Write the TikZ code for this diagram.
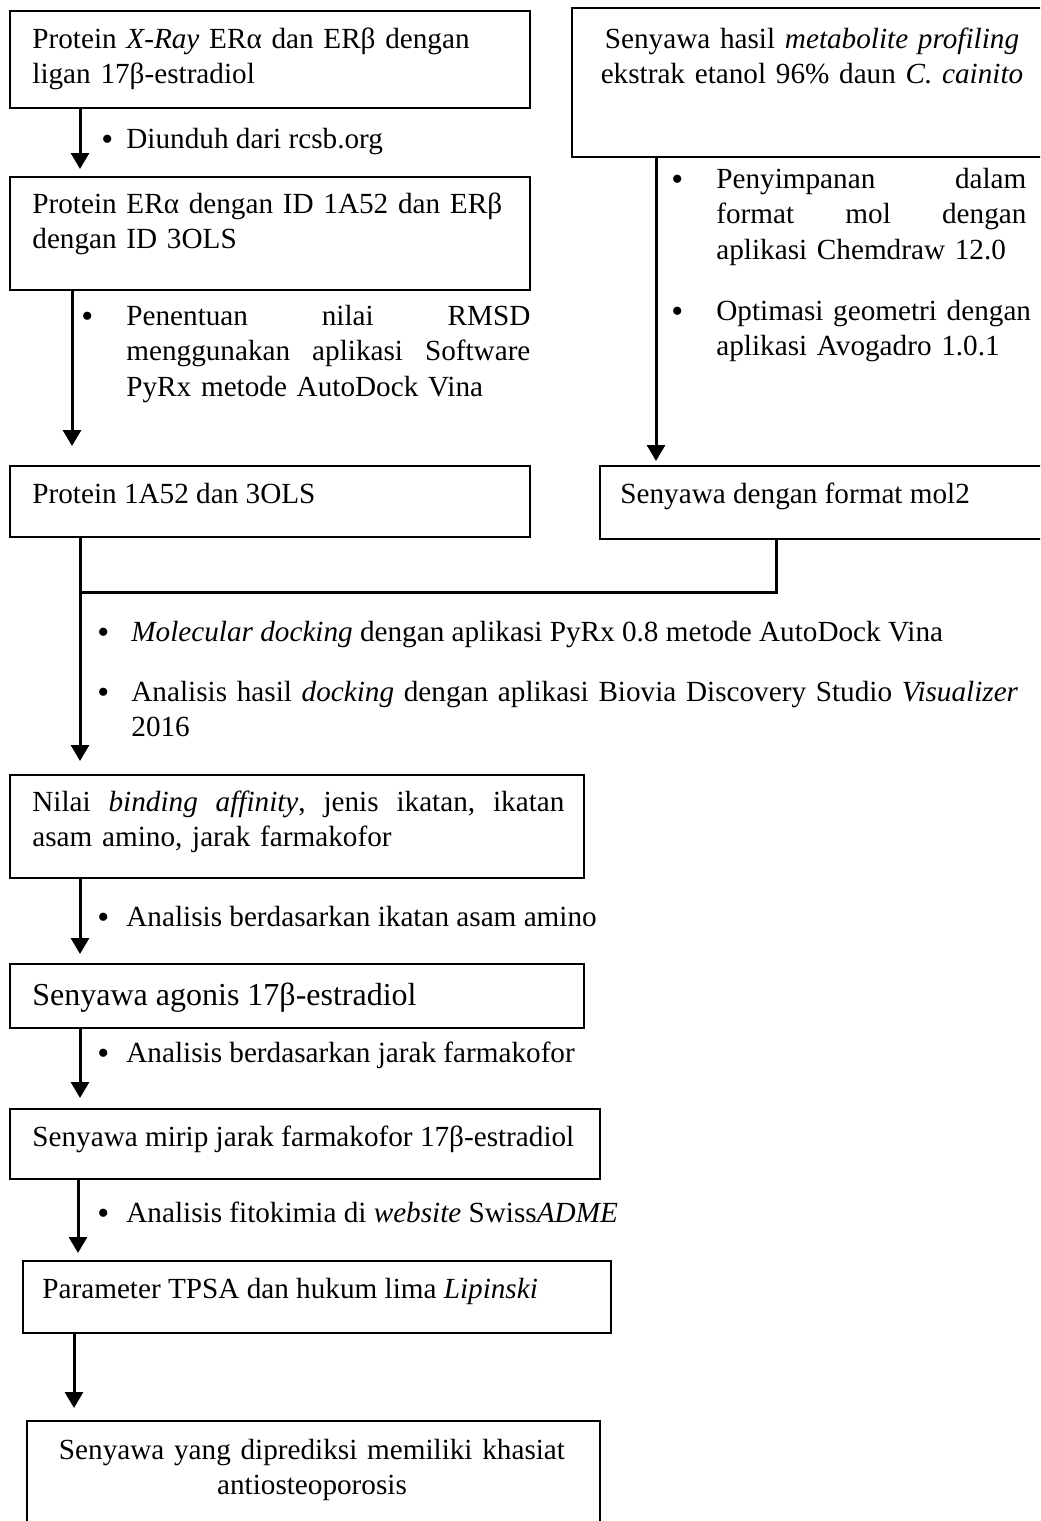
\documentclass[tikz,border=0pt]{standalone}
\usepackage{fontspec}
\setmainfont{Liberation Serif}
\usetikzlibrary{fit, arrows.meta, positioning}
\tikzstyle{frame} = [draw=black, line width=1pt, inner sep=0]
\tikzstyle{txt} = [inner sep=0, anchor=base west, align=left, font=\fontsize{14.6}{17.9}\selectfont]
\tikzstyle{mid} = [inner sep=0, anchor=base, align=center, font=\fontsize{14.6}{17.9}\selectfont]
\tikzstyle{dot} = [inner sep=0, anchor=base west, yshift=-1.2pt, font=\fontsize{17}{18}\selectfont]
\tikzstyle{flow} = [line width=1.5pt, -{Triangle[width=9pt,length=8pt]}]
\tikzstyle{link} = [line width=1.5pt]

\begin{document}
\begin{tikzpicture}[x=0.5pt, y=-0.5pt]
				\useasboundingbox (0, 0) rectangle (1040, 1521);
				\clip (0, 0) rectangle (1040, 1521);

				% left column, proteins
				\node (Xray) [frame, fit={(10, 11) (530, 108)}] {};
				\node (XrayText) [txt, text width=250pt] at (32, 48) {Protein \textit{X-Ray} ERα dan ERβ dengan\\ ligan 17β-estradiol};

				\node (Crystal) [frame, fit={(10, 177) (530, 290)}] {};
				\node (CrystalText) [txt, text width=250pt] at (32, 213) {Protein ERα dengan ID 1A52 dan ERβ\\ dengan ID 3OLS};

				\node (Protein) [frame, fit={(10, 466) (530, 537)}] {};
				\node (ProteinText) [txt] at (32, 503) {Protein 1A52 dan 3OLS};

				\coordinate (ColA) at (80, 0);
				\coordinate (ColB) at (72, 0);
				\draw [flow, shorten >=3.5pt] (Xray.south -| ColA) -- (Crystal.north -| ColA);
				\node (DownloadDot) [dot] at (101, 148) {•};
				\node (Download) [txt] at (126, 148) {Diunduh dari rcsb.org};

				\draw [flow, shorten >=9.5pt] (Crystal.south -| ColB) -- (Protein.north -| ColB);
				\node (RmsdDot) [dot] at (81, 325) {•};
				\node (Rmsd) [txt, text width=202pt] at (126, 325) {Penentuan\hfill nilai\hfill RMSD\\ menggunakan\hfill aplikasi\hfill Software\\ PyRx metode AutoDock Vina};

				% right column, ligands
				\node (Profile) [frame, fit={(572, 8) (1070, 157)}] {};
				\node (ProfileText) [mid, text width=230pt] at (812, 48) {Senyawa hasil \textit{metabolite profiling}\\ ekstrak etanol 96\% daun \textit{C. cainito}};

				\node (Mol2) [frame, fit={(600, 466) (1070, 539)}] {};
				\node (Mol2Text) [txt] at (620, 503) {Senyawa dengan format mol2};

				\coordinate (ColR) at (656, 0);
				\draw [flow, shorten >=2pt] (Profile.south -| ColR) -- (Mol2.north -| ColR);
				\node (SaveDot) [dot] at (671, 188) {•};
				\node (Save) [txt, text width=155pt] at (716, 188) {Penyimpanan\hfill dalam\\ format\hfill mol\hfill dengan\\ aplikasi Chemdraw 12.0};
				\node (OptDot) [dot] at (671, 320) {•};
				\node (Opt) [txt, text width=162pt] at (716, 320) {Optimasi geometri dengan\\ aplikasi Avogadro 1.0.1};

				% both columns meet
				\coordinate (JoinR) at (776, 0);
				\coordinate (Join) at (80, 592);
				\node (Affinity) [frame, fit={(10, 775) (584, 878)}] {};
				\node (AffinityText) [txt, text width=266pt] at (32, 811) {Nilai\hfill \textit{binding}\hfill \textit{affinity},\hfill jenis\hfill ikatan,\hfill ikatan\\ asam amino, jarak farmakofor};

				\draw [link] (Mol2.south -| JoinR) |- (Join);
				\draw [flow, shorten >=6.5pt] (Protein.south -| Join) -- (Affinity.north -| Join);
				\node (DockDot) [dot] at (97, 641) {•};
				\node (Dock) [txt] at (131, 641) {\textit{Molecular docking} dengan aplikasi PyRx 0.8 metode AutoDock Vina};
				\node (VisDot) [dot] at (97, 701) {•};
				\node (Vis) [txt, text width=450pt] at (131, 701) {Analisis hasil \textit{docking} dengan aplikasi Biovia Discovery Studio \textit{Visualizer}\\ 2016};

				% screening steps
				\node (Agonist) [frame, fit={(10, 964) (584, 1028)}] {};
				\node (AgonistText) [txt, font=\fontsize{16}{19}\selectfont] at (32, 1005) {Senyawa agonis 17β-estradiol};
				\draw [flow, shorten >=4.5pt] (Affinity.south -| ColA) -- (Agonist.north -| ColA);
				\node (AminoDot) [dot] at (97, 926) {•};
				\node (Amino) [txt] at (126, 926) {Analisis berdasarkan ikatan asam amino};

				\node (Similar) [frame, fit={(10, 1109) (600, 1179)}] {};
				\node (SimilarText) [txt] at (32, 1146) {Senyawa mirip jarak farmakofor 17β-estradiol};
				\draw [flow, shorten >=5pt] (Agonist.south -| ColA) -- (Similar.north -| ColA);
				\node (PharmDot) [dot] at (97, 1062) {•};
				\node (Pharm) [txt] at (126, 1062) {Analisis berdasarkan jarak farmakofor};

				\coordinate (ColC) at (78, 0);
				\node (Tpsa) [frame, fit={(23, 1261) (611, 1333)}] {};
				\node (TpsaText) [txt] at (42, 1298) {Parameter TPSA dan hukum lima \textit{Lipinski}};
				\draw [flow, shorten >=3.5pt] (Similar.south -| ColC) -- (Tpsa.north -| ColC);
				\node (AdmeDot) [dot] at (97, 1222) {•};
				\node (Adme) [txt] at (126, 1222) {Analisis fitokimia di \textit{website} Swiss\textit{ADME}};

				% the outcome
				\coordinate (ColD) at (74, 0);
				\node (Result) [frame, fit={(27, 1421) (600, 1580)}] {};
				\node (ResultText) [mid, text width=270pt] at (312, 1459) {Senyawa yang diprediksi memiliki khasiat\\ antiosteoporosis};
				\draw [flow, shorten >=6pt] (Tpsa.south -| ColD) -- (Result.north -| ColD);
			\end{tikzpicture}
\end{document}
